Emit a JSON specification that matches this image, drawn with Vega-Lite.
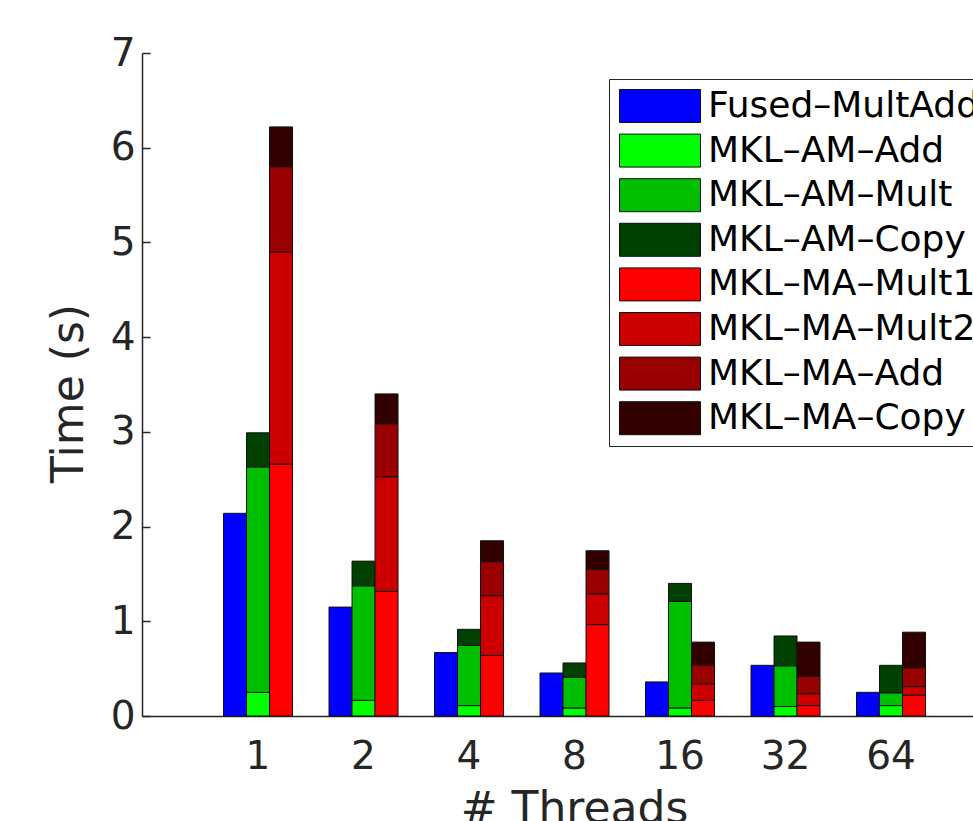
{
  "$schema": "https://vega.github.io/schema/vega-lite/v6.json",
  "autosize": {"type": "none"},
  "padding": {"left": 142, "top": 53, "right": 0, "bottom": 105},
  "width": 831,
  "height": 663,
  "background": "white",
  "config": {
    "view": {"stroke": null},
    "font": "DejaVu Sans"
  },
  "data": {
    "values": [
      {"t": "1", "impl": "Fused", "part": "Fused–MultAdd", "time": 2.14},
      {"t": "1", "impl": "AM", "part": "MKL–AM–Add", "time": 0.25},
      {"t": "1", "impl": "AM", "part": "MKL–AM–Mult", "time": 2.38},
      {"t": "1", "impl": "AM", "part": "MKL–AM–Copy", "time": 0.36},
      {"t": "1", "impl": "MA", "part": "MKL–MA–Mult1", "time": 2.66},
      {"t": "1", "impl": "MA", "part": "MKL–MA–Mult2", "time": 2.24},
      {"t": "1", "impl": "MA", "part": "MKL–MA–Add", "time": 0.90},
      {"t": "1", "impl": "MA", "part": "MKL–MA–Copy", "time": 0.42},

      {"t": "2", "impl": "Fused", "part": "Fused–MultAdd", "time": 1.15},
      {"t": "2", "impl": "AM", "part": "MKL–AM–Add", "time": 0.165},
      {"t": "2", "impl": "AM", "part": "MKL–AM–Mult", "time": 1.21},
      {"t": "2", "impl": "AM", "part": "MKL–AM–Copy", "time": 0.26},
      {"t": "2", "impl": "MA", "part": "MKL–MA–Mult1", "time": 1.316},
      {"t": "2", "impl": "MA", "part": "MKL–MA–Mult2", "time": 1.21},
      {"t": "2", "impl": "MA", "part": "MKL–MA–Add", "time": 0.56},
      {"t": "2", "impl": "MA", "part": "MKL–MA–Copy", "time": 0.315},

      {"t": "4", "impl": "Fused", "part": "Fused–MultAdd", "time": 0.67},
      {"t": "4", "impl": "AM", "part": "MKL–AM–Add", "time": 0.11},
      {"t": "4", "impl": "AM", "part": "MKL–AM–Mult", "time": 0.635},
      {"t": "4", "impl": "AM", "part": "MKL–AM–Copy", "time": 0.17},
      {"t": "4", "impl": "MA", "part": "MKL–MA–Mult1", "time": 0.64},
      {"t": "4", "impl": "MA", "part": "MKL–MA–Mult2", "time": 0.63},
      {"t": "4", "impl": "MA", "part": "MKL–MA–Add", "time": 0.36},
      {"t": "4", "impl": "MA", "part": "MKL–MA–Copy", "time": 0.22},

      {"t": "8", "impl": "Fused", "part": "Fused–MultAdd", "time": 0.454},
      {"t": "8", "impl": "AM", "part": "MKL–AM–Add", "time": 0.085},
      {"t": "8", "impl": "AM", "part": "MKL–AM–Mult", "time": 0.325},
      {"t": "8", "impl": "AM", "part": "MKL–AM–Copy", "time": 0.15},
      {"t": "8", "impl": "MA", "part": "MKL–MA–Mult1", "time": 0.965},
      {"t": "8", "impl": "MA", "part": "MKL–MA–Mult2", "time": 0.325},
      {"t": "8", "impl": "MA", "part": "MKL–MA–Add", "time": 0.26},
      {"t": "8", "impl": "MA", "part": "MKL–MA–Copy", "time": 0.195},

      {"t": "16", "impl": "Fused", "part": "Fused–MultAdd", "time": 0.36},
      {"t": "16", "impl": "AM", "part": "MKL–AM–Add", "time": 0.085},
      {"t": "16", "impl": "AM", "part": "MKL–AM–Mult", "time": 1.125},
      {"t": "16", "impl": "AM", "part": "MKL–AM–Copy", "time": 0.19},
      {"t": "16", "impl": "MA", "part": "MKL–MA–Mult1", "time": 0.165},
      {"t": "16", "impl": "MA", "part": "MKL–MA–Mult2", "time": 0.175},
      {"t": "16", "impl": "MA", "part": "MKL–MA–Add", "time": 0.20},
      {"t": "16", "impl": "MA", "part": "MKL–MA–Copy", "time": 0.24},

      {"t": "32", "impl": "Fused", "part": "Fused–MultAdd", "time": 0.535},
      {"t": "32", "impl": "AM", "part": "MKL–AM–Add", "time": 0.10},
      {"t": "32", "impl": "AM", "part": "MKL–AM–Mult", "time": 0.43},
      {"t": "32", "impl": "AM", "part": "MKL–AM–Copy", "time": 0.315},
      {"t": "32", "impl": "MA", "part": "MKL–MA–Mult1", "time": 0.11},
      {"t": "32", "impl": "MA", "part": "MKL–MA–Mult2", "time": 0.125},
      {"t": "32", "impl": "MA", "part": "MKL–MA–Add", "time": 0.185},
      {"t": "32", "impl": "MA", "part": "MKL–MA–Copy", "time": 0.36},

      {"t": "64", "impl": "Fused", "part": "Fused–MultAdd", "time": 0.25},
      {"t": "64", "impl": "AM", "part": "MKL–AM–Add", "time": 0.11},
      {"t": "64", "impl": "AM", "part": "MKL–AM–Mult", "time": 0.135},
      {"t": "64", "impl": "AM", "part": "MKL–AM–Copy", "time": 0.29},
      {"t": "64", "impl": "MA", "part": "MKL–MA–Mult1", "time": 0.22},
      {"t": "64", "impl": "MA", "part": "MKL–MA–Mult2", "time": 0.09},
      {"t": "64", "impl": "MA", "part": "MKL–MA–Add", "time": 0.20},
      {"t": "64", "impl": "MA", "part": "MKL–MA–Copy", "time": 0.375}
    ]
  },
  "transform": [
    {"window": [{"op": "row_number", "as": "seq"}], "groupby": ["t", "impl"]}
  ],
  "mark": {"type": "bar", "stroke": "#111111", "strokeWidth": 1, "opacity": 1},
  "encoding": {
    "x": {
      "field": "t",
      "type": "nominal",
      "sort": ["1", "2", "4", "8", "16", "32", "64"],
      "scale": {"paddingInner": 0, "paddingOuter": 0.4384, "align": 0.684},
      "axis": {
        "title": "# Threads",
        "titleFont": "DejaVu Sans",
        "titleFontSize": 44,
        "titleFontWeight": "normal",
        "titleColor": "#262626",
        "titleBaseline": "alphabetic",
        "titleX": 432,
        "titleY": 106,
        "labelFont": "DejaVu Sans",
        "labelFontSize": 39,
        "labelColor": "#262626",
        "labelAngle": 0,
        "labelPadding": 21,
        "ticks": false,
        "domainColor": "#262626",
        "domainWidth": 1.5
      }
    },
    "xOffset": {
      "field": "impl",
      "type": "nominal",
      "sort": ["Fused", "AM", "MA"],
      "scale": {"paddingInner": 0, "paddingOuter": 0.793}
    },
    "y": {
      "field": "time",
      "type": "quantitative",
      "stack": "zero",
      "scale": {"domain": [0, 7], "nice": false},
      "axis": {
        "title": "Time (s)",
        "titleFont": "DejaVu Sans",
        "titleFontSize": 44,
        "titleFontWeight": "normal",
        "titleColor": "#262626",
        "titleBaseline": "alphabetic",
        "titleX": -60,
        "titleY": 340,
        "titleAngle": -90,
        "values": [0, 1, 2, 3, 4, 5, 6, 7],
        "labelFont": "DejaVu Sans",
        "labelFontSize": 39,
        "labelColor": "#262626",
        "labelPadding": 15,
        "tickSize": -8,
        "tickColor": "#262626",
        "tickWidth": 1.5,
        "domainColor": "#262626",
        "domainWidth": 1.5,
        "grid": false
      }
    },
    "color": {
      "field": "part",
      "type": "nominal",
      "scale": {
        "domain": ["Fused–MultAdd", "MKL–AM–Add", "MKL–AM–Mult", "MKL–AM–Copy", "MKL–MA–Mult1", "MKL–MA–Mult2", "MKL–MA–Add", "MKL–MA–Copy"],
        "range": ["#0000ff", "#00ff00", "#00bf00", "#004000", "#ff0000", "#cc0000", "#990000", "#330000"]
      },
      "legend": {
        "title": null,
        "orient": "none",
        "legendX": 467,
        "legendY": 26,
        "padding": 9,
        "fillColor": "white",
        "strokeColor": "#262626",
        "cornerRadius": 0,
        "symbolType": "M-2.4545,-1H2.4545V1H-2.4545Z",
        "symbolSize": 1089,
        "symbolOffset": 24,
        "symbolStrokeColor": "#111111",
        "symbolStrokeWidth": 1,
        "symbolOpacity": 1,
        "labelFont": "DejaVu Sans",
        "labelFontSize": 36,
        "labelColor": "#000000",
        "labelOffset": 30,
        "labelLimit": 500,
        "rowPadding": 6.6
      }
    },
    "order": {"field": "seq", "type": "quantitative"}
  }
}
